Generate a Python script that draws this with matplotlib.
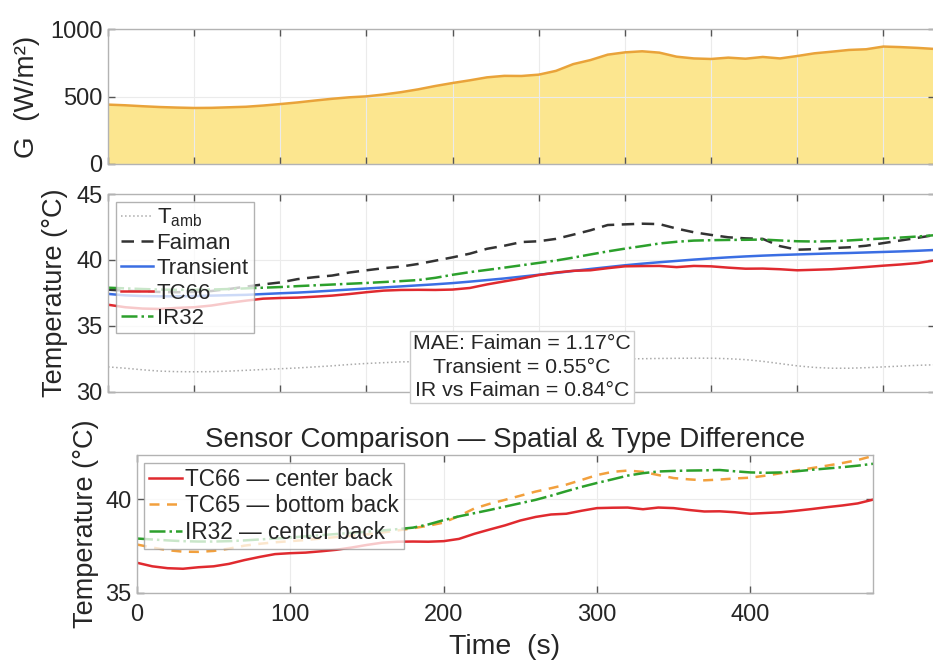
import numpy as np
import matplotlib
matplotlib.use("Agg")
import matplotlib.pyplot as plt

plt.rcParams['font.family'] = ['Liberation Sans', 'DejaVu Sans']
plt.rcParams['mathtext.fontset'] = 'custom'
plt.rcParams['mathtext.rm'] = 'Liberation Sans'
plt.rcParams['mathtext.it'] = 'Liberation Sans:italic'

# time axis (s), one reading every 10 s
t = np.arange(0, 481, 10)

# irradiance G (W/m^2)
G = [440, 435, 428, 422, 418, 415, 416, 420, 424, 433,
     444, 456, 470, 483, 494, 501, 515, 532, 553, 578,
     600, 620, 642, 653, 652, 662, 690, 740, 770, 810,
     827, 835, 825, 795, 782, 778, 788, 780, 793, 782,
     800, 820, 832, 845, 850, 870, 866, 860, 852]

# temperatures (deg C)
T_amb = [31.90, 31.80, 31.68, 31.58, 31.54, 31.53, 31.54, 31.58, 31.64, 31.70,
         31.76, 31.82, 31.90, 31.98, 32.08, 32.16, 32.22, 32.28, 32.30, 32.33,
         32.36, 32.38, 32.40, 32.42, 32.44, 32.45, 32.46, 32.47, 32.48, 32.49,
         32.50, 32.52, 32.54, 32.55, 32.56, 32.56, 32.52, 32.45, 32.32, 32.15,
         31.98, 31.86, 31.80, 31.80, 31.84, 31.90, 31.96, 32.02, 32.06]
faiman = [37.75, 37.68, 37.62, 37.58, 37.56, 37.58, 37.65, 37.80, 37.98, 38.15,
          38.30, 38.55, 38.70, 38.82, 39.05, 39.22, 39.38, 39.50, 39.70, 39.95,
          40.20, 40.48, 40.85, 41.08, 41.36, 41.42, 41.60, 41.92, 42.25, 42.65,
          42.70, 42.75, 42.72, 42.38, 42.10, 41.90, 41.72, 41.64, 41.60, 41.05,
          40.78, 40.82, 40.90, 40.96, 41.08, 41.28, 41.48, 41.68, 41.90]
transient = [37.43, 37.32, 37.27, 37.25, 37.25, 37.27, 37.30, 37.33, 37.36, 37.42,
             37.48, 37.53, 37.60, 37.68, 37.76, 37.84, 37.92, 38.00, 38.08, 38.16,
             38.25, 38.36, 38.48, 38.60, 38.74, 38.88, 39.02, 39.17, 39.32, 39.46,
             39.60, 39.72, 39.83, 39.93, 40.03, 40.12, 40.20, 40.27, 40.33, 40.38,
             40.42, 40.46, 40.50, 40.53, 40.57, 40.61, 40.65, 40.70, 40.76]
tc66 = [36.61, 36.42, 36.32, 36.29, 36.37, 36.42, 36.55, 36.75, 36.92, 37.07,
        37.12, 37.15, 37.22, 37.30, 37.42, 37.56, 37.68, 37.73, 37.74, 37.73,
        37.76, 37.88, 38.15, 38.38, 38.60, 38.86, 39.05, 39.18, 39.22, 39.38,
        39.52, 39.54, 39.55, 39.46, 39.55, 39.52, 39.42, 39.34, 39.35, 39.30,
        39.22, 39.26, 39.30, 39.38, 39.47, 39.57, 39.66, 39.77, 39.97]
tc65 = [37.58, 37.42, 37.28, 37.20, 37.19, 37.24, 37.36, 37.52, 37.62, 37.70,
        37.76, 37.82, 37.90, 37.98, 38.05, 38.12, 38.22, 38.33, 38.45, 38.58,
        38.75, 39.10, 39.50, 39.75, 39.96, 40.18, 40.40, 40.58, 40.77, 41.02,
        41.28, 41.45, 41.52, 41.45, 41.28, 41.12, 41.05, 41.00, 41.04, 41.10,
        41.14, 41.25, 41.38, 41.52, 41.65, 41.78, 41.92, 42.08, 42.30]
ir32 = [37.90, 37.85, 37.80, 37.76, 37.74, 37.74, 37.76, 37.80, 37.85, 37.90,
        37.95, 38.02, 38.08, 38.14, 38.20, 38.26, 38.33, 38.40, 38.48, 38.65,
        38.88, 39.08, 39.25, 39.42, 39.60, 39.78, 39.96, 40.18, 40.42, 40.65,
        40.86, 41.05, 41.25, 41.38, 41.47, 41.50, 41.52, 41.53, 41.55, 41.48,
        41.42, 41.40, 41.42, 41.48, 41.56, 41.63, 41.70, 41.78, 41.88]

mae_text = "MAE: Faiman = 1.17°C\nTransient = 0.55°C\nIR vs Faiman = 0.84°C"

c_red = '#E02A2F'
c_blue = '#3B6EE3'
c_green = '#2CA02C'
c_orange = '#F2A03D'
c_txt = '#262626'


def style_axes(ax):
    for s in ax.spines.values():
        s.set_color('#b3b3b3')
        s.set_linewidth(1)
    ax.tick_params(direction='in', length=5, width=1, color='#555555',
                   labelcolor=c_txt, labelsize=17, top=True, right=True, pad=4)
    ax.grid(True, color='#ebebeb', linewidth=0.8)
    ax.set_xlim(0, 480)


fig = plt.figure(figsize=(9.33, 6.61), dpi=100)
ax1 = fig.add_axes([0.1158, 0.7519, 0.8864, 0.2042])
ax2 = fig.add_axes([0.1158, 0.4070, 0.8864, 0.2995])
ax3 = fig.add_axes([0.1468, 0.1029, 0.7889, 0.2088])

# irradiance
style_axes(ax1)
ax1.fill_between(t, G, color='#FCE073', alpha=0.8, linewidth=0)
ax1.plot(t, G, color='#E9A33A', lw=1.8)
ax1.set_ylim(0, 1000)
ax1.set_yticks([0, 500, 1000])
ax1.set_xticks(np.arange(0, 481, 50))
ax1.set_xticklabels([])
ax1.set_ylabel('G  (W/m²)', fontsize=20, color=c_txt)
ax1.yaxis.set_label_coords(-0.082, 0.5)

# model vs measured
style_axes(ax2)
ax2.plot(t, T_amb, color='#aaaaaa', lw=1.1, ls=':', label=r'$\mathrm{T_{amb}}$')
ax2.plot(t, faiman, color='#333333', lw=1.8, dashes=(5, 3), label='Faiman')
ax2.plot(t, transient, color=c_blue, lw=1.8, label='Transient')
ax2.plot(t, tc66, color=c_red, lw=1.8, label='TC66')
ax2.plot(t, ir32, color=c_green, lw=1.8, ls='-.', label='IR32')
ax2.set_ylim(30, 45)
ax2.set_yticks([30, 35, 40, 45])
ax2.set_xticks(np.arange(0, 481, 50))
ax2.set_xticklabels([])
ax2.set_ylabel('Temperature (°C)', fontsize=19.5, color=c_txt)
ax2.yaxis.set_label_coords(-0.048, 0.5)
leg = ax2.legend(loc='upper left', bbox_to_anchor=(0.0097, 0.96), borderaxespad=0,
                 fontsize=16, handlelength=1.45, handletextpad=0.15, labelspacing=0.17,
                 borderpad=0.22, fancybox=False, framealpha=0.75, edgecolor='#999999')
leg.get_frame().set_linewidth(1)
for tx in leg.get_texts():
    tx.set_color(c_txt)
ax2.text(0.5006, 0.126, mae_text, transform=ax2.transAxes, ha='center', va='center',
         fontsize=15.3, color=c_txt, linespacing=1.3, clip_on=False, zorder=10,
         bbox=dict(boxstyle='square,pad=0.15', facecolor='white', edgecolor='#cccccc', lw=1))

# sensor comparison
style_axes(ax3)
ax3.tick_params(axis='x', pad=8)
ax3.plot(t, tc66, color=c_red, lw=1.8, label='TC66 — center back')
ax3.plot(t, tc65, color=c_orange, lw=1.8, dashes=(4, 3), label='TC65 — bottom back')
ax3.plot(t, ir32, color=c_green, lw=1.8, ls='-.', label='IR32 — center back')
ax3.set_ylim(35, 42.35)
ax3.set_yticks([35, 40])
ax3.set_xticks([0, 100, 200, 300, 400])
ax3.set_title('Sensor Comparison — Spatial & Type Difference', fontsize=20, color=c_txt, pad=6)
ax3.set_xlabel('Time  (s)', fontsize=20.5, color=c_txt, labelpad=6)
ax3.set_ylabel('Temperature (°C)', fontsize=19.5, color=c_txt)
ax3.yaxis.set_label_coords(-0.052, 0.5)
leg3 = ax3.legend(loc='upper left', bbox_to_anchor=(0.0095, 0.942), borderaxespad=0,
                  fontsize=16.3, handlelength=1.45, handletextpad=0.15, labelspacing=0.15,
                  borderpad=0.22, fancybox=False, framealpha=0.75, edgecolor='#999999')
leg3.get_frame().set_linewidth(1)
for tx in leg3.get_texts():
    tx.set_color(c_txt)

fig.savefig('out.png', dpi=100)
